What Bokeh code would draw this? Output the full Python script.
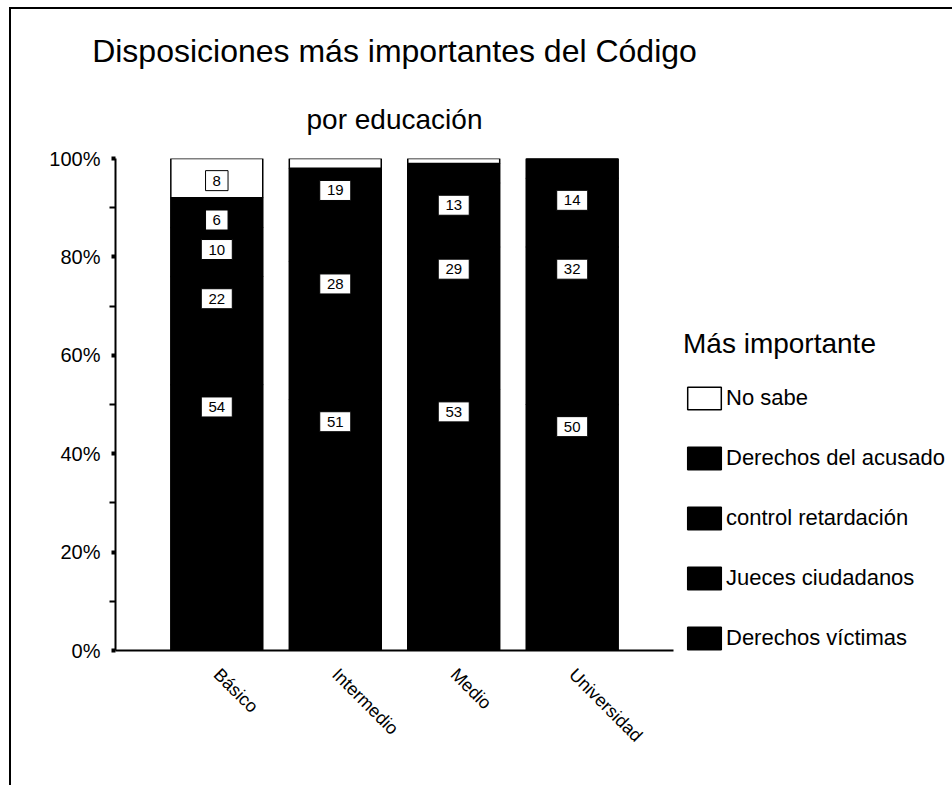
import math
from bokeh.plotting import figure
from bokeh.models import (FactorRange, Range1d, FixedTicker, PrintfTickFormatter,
                          Legend, LegendItem, Title, ColumnDataSource)
from bokeh.core.properties import value
from bokeh.embed import file_html
from bokeh.resources import INLINE

FONT = "Liberation Sans"

categories = ["Básico", "Intermedio", "Medio", "Universidad"]
series_names = ["Derechos víctimas", "Jueces ciudadanos", "control retardación",
                "Derechos del acusado", "No sabe"]
victimas = [54, 51, 53, 50]
jueces = [22, 28, 29, 32]
control = [10, 19, 13, 14]
acusado = [6, 0, 4, 4]
no_sabe = [8, 2, 1, 0]
colors = ["black", "black", "black", "black", "white"]

title_text = "Disposiciones más importantes del Código"
subtitle_text = "por educación"
legend_title = "Más importante"
y_ticks = [0, 20, 40, 60, 80, 100]
y_minor = [10, 30, 50, 70, 90]

series = [victimas, jueces, control, acusado, no_sabe]
data = {"cat": categories}
for name, vals in zip(series_names, series):
    data[name] = vals
source = ColumnDataSource(data)

p = figure(x_range=FactorRange(*categories, range_padding=0.355, range_padding_units="absolute"),
           y_range=Range1d(0, 100), frame_width=558, frame_height=492, title=None,
           output_backend="svg", toolbar_location=None,
           min_border_left=104, min_border_right=278, min_border_top=149, min_border_bottom=135)
p.styles = {"margin-left": "9px", "margin-top": "7px",
            "border-left": "2px solid black", "border-top": "2px solid black"}

renderers = p.vbar_stack(series_names, x="cat", width=0.776, source=source,
                         fill_color=colors, line_color="black", line_width=1.5)

# value labels (white boxes with the number)
lx, ly, lt, lw = [], [], [], []
for i, cat in enumerate(categories):
    cum = 0
    for vals in series:
        v = vals[i]
        cum += v
        if v >= 5:
            lx.append(cat)
            ly.append(cum - 4.5)
            lt.append(str(v))
            lw.append(14 + 8.5 * len(str(v)))
lab = ColumnDataSource(dict(x=lx, y=ly, t=lt, w=lw))
p.rect(x="x", y="y", width="w", height=20, width_units="screen", height_units="screen",
       source=lab, fill_color="white", line_color="black", line_width=1)
p.text(x="x", y="y", text="t", source=lab, text_font=value(FONT), text_font_size="15px",
       text_color="black", text_align="center", text_baseline="middle")

# titles
p.add_layout(Title(text=subtitle_text, text_font=FONT, text_font_size="28px",
                   text_font_style="normal", text_color="black", align="center",
                   standoff=48), "above")
p.add_layout(Title(text=title_text, text_font=FONT, text_font_size="32px",
                   text_font_style="normal", text_color="black", align="center",
                   standoff=18), "above")

# axes
p.xgrid.visible = False
p.ygrid.visible = False
p.outline_line_color = None
p.background_fill_color = "white"
p.border_fill_color = "white"

p.xaxis.axis_line_width = 2
p.xaxis.axis_line_color = "black"
p.xaxis.major_tick_line_color = None
p.xaxis.minor_tick_line_color = None
p.xaxis.major_label_orientation = -math.pi / 4
p.xaxis.major_label_text_font = FONT
p.xaxis.major_label_text_font_size = "18px"
p.xaxis.major_label_text_color = "black"
p.xaxis.major_label_standoff = 15

p.yaxis.ticker = FixedTicker(ticks=y_ticks, minor_ticks=y_minor)
p.yaxis.formatter = PrintfTickFormatter(format="%d%%")
p.yaxis.axis_line_width = 2
p.yaxis.axis_line_color = "black"
p.yaxis.major_tick_line_width = 4
p.yaxis.major_tick_line_color = "black"
p.yaxis.major_tick_out = 4
p.yaxis.major_tick_in = 0
p.yaxis.minor_tick_line_width = 2
p.yaxis.minor_tick_line_color = "black"
p.yaxis.minor_tick_out = 6
p.yaxis.minor_tick_in = 0
p.yaxis.major_label_text_font = FONT
p.yaxis.major_label_text_font_size = "20px"
p.yaxis.major_label_text_color = "black"
p.yaxis.major_label_standoff = 9

items = [LegendItem(label=n, renderers=[r]) for n, r in zip(series_names, renderers)][::-1]
legend = Legend(items=items, location=(10, -2), title=legend_title,
                title_text_font=FONT, title_text_font_size="28px", title_text_font_style="normal",
                title_text_color="black", title_standoff=24,
                label_text_font=FONT, label_text_font_size="22px", label_text_color="black",
                glyph_width=42, glyph_height=28, label_height=28, label_standoff=1,
                spacing=32, padding=0, margin=0, border_line_color=None,
                background_fill_alpha=0)
p.add_layout(legend, "right")

open("out.html", "w").write(file_html(p, INLINE))
